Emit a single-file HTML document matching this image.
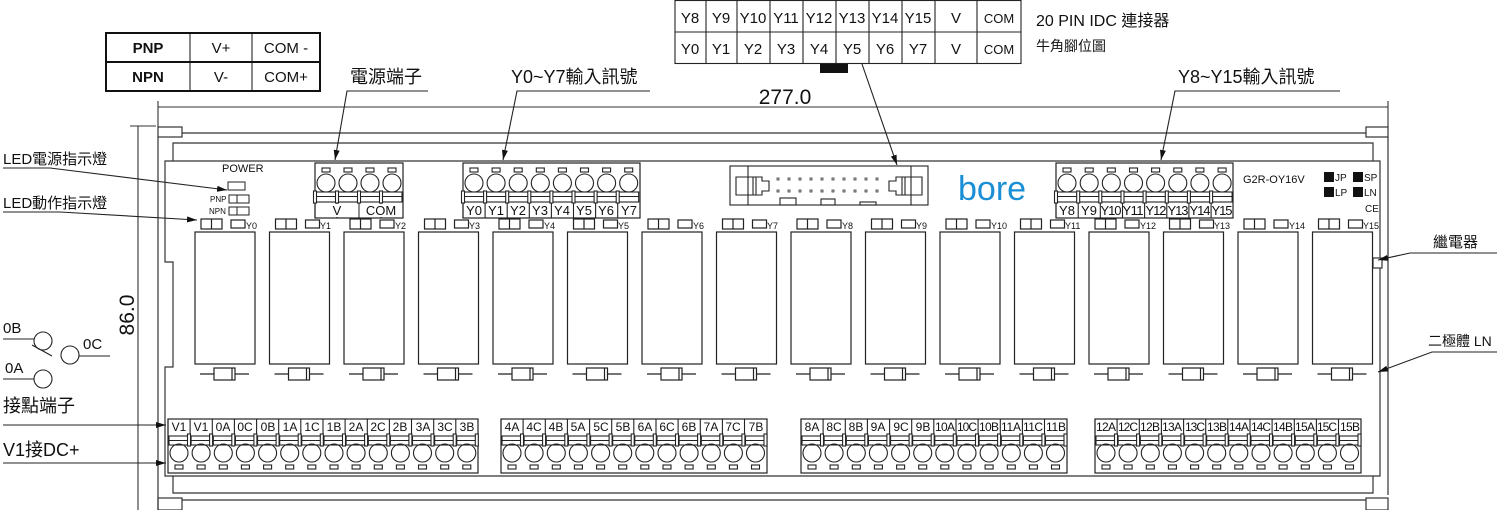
<!DOCTYPE html>
<html><head><meta charset="utf-8"><style>
html,body{margin:0;padding:0;background:#fff;}
svg{display:block;font-family:"Liberation Sans","Noto Sans CJK TC",sans-serif;}
</style></head><body>
<svg width="1500" height="510" viewBox="0 0 1500 510" xmlns="http://www.w3.org/2000/svg">
<defs>
<marker id="ar" viewBox="0 0 10 6" refX="10" refY="3" markerWidth="10" markerHeight="6" orient="auto" markerUnits="userSpaceOnUse"><path d="M0,0 L10,3 L0,6 z" fill="#111"/></marker>
<g id="relay" fill="none" stroke="#222" stroke-width="1.2">
<rect x="6" y="219" width="21" height="10"/><line x1="16.5" y1="219" x2="16.5" y2="229"/>
<rect x="36" y="220" width="14" height="8"/>
<rect x="0" y="232" width="60" height="132"/>
<line x1="5" y1="374" x2="54" y2="374"/>
<rect x="19" y="368" width="21" height="12" fill="#fff"/>
<line x1="37" y1="368" x2="37" y2="380"/>
</g>
<g id="bc" fill="none" stroke="#222" stroke-width="1.1">
<line x1="0" y1="0" x2="0" y2="15"/>
<rect x="1" y="17" width="20" height="9"/><line x1="1" y1="21.5" x2="21" y2="21.5"/>
<rect x="19.5" y="15" width="3" height="12" fill="#fff"/>
<circle cx="11" cy="34" r="9"/>
<rect x="7" y="46" width="8" height="4"/>
</g>
<g id="tc" fill="none" stroke="#222" stroke-width="1.1">
<rect x="7" y="5" width="8" height="4"/>
<circle cx="11" cy="20" r="9"/>
<rect x="1" y="29" width="20" height="10"/><line x1="1" y1="33.5" x2="21" y2="33.5"/>
<rect x="-1.5" y="28" width="3" height="12" fill="#fff"/>
<line x1="0" y1="40" x2="0" y2="55"/>
</g>
</defs>

<!-- PNP table -->
<g stroke="#111" stroke-width="2" fill="none">
<rect x="106" y="33" width="214" height="58"/>
<line x1="106" y1="62" x2="320" y2="62"/>
<line x1="190" y1="33" x2="190" y2="91" stroke-width="1"/>
<line x1="252" y1="33" x2="252" y2="91" stroke-width="1"/>
</g>
<g font-size="15" text-anchor="middle" fill="#111">
<text x="148" y="53" font-weight="bold">PNP</text><text x="221" y="53">V+</text><text x="286" y="53">COM -</text>
<text x="148" y="82" font-weight="bold">NPN</text><text x="221" y="82">V-</text><text x="286" y="82">COM+</text>
</g>

<!-- IDC table -->
<g stroke="#222" stroke-width="1.1" fill="none">
<rect x="675" y="0.5" width="346" height="63"/>
<line x1="675" y1="32" x2="1021" y2="32"/>
<line x1="706" y1="0" x2="706" y2="63"/><line x1="737" y1="0" x2="737" y2="63"/><line x1="770" y1="0" x2="770" y2="63"/><line x1="803" y1="0" x2="803" y2="63"/><line x1="836" y1="0" x2="836" y2="63"/><line x1="869" y1="0" x2="869" y2="63"/><line x1="902" y1="0" x2="902" y2="63"/><line x1="935" y1="0" x2="935" y2="63"/><line x1="977" y1="0" x2="977" y2="63"/>
</g>
<rect x="820" y="64" width="28" height="9" fill="#111"/>
<g font-size="15" text-anchor="middle" fill="#111">
<text x="690" y="23">Y8</text><text x="721" y="23">Y9</text><text x="753" y="23">Y10</text><text x="786" y="23">Y11</text><text x="819" y="23">Y12</text><text x="852" y="23">Y13</text><text x="885" y="23">Y14</text><text x="918" y="23">Y15</text><text x="956" y="23">V</text><text x="999" y="23" font-size="13">COM</text>
<text x="690" y="54">Y0</text><text x="721" y="54">Y1</text><text x="753" y="54">Y2</text><text x="786" y="54">Y3</text><text x="819" y="54">Y4</text><text x="852" y="54">Y5</text><text x="885" y="54">Y6</text><text x="918" y="54">Y7</text><text x="956" y="54">V</text><text x="999" y="54" font-size="13">COM</text>
</g>
<text x="1036" y="26" font-size="16" fill="#111">20 PIN IDC 連接器</text>
<text x="1036" y="51" font-size="14" fill="#111">牛角腳位圖</text>

<!-- dimensions -->
<g stroke="#333" stroke-width="1.1" fill="none">
<line x1="158" y1="107" x2="1388" y2="107"/>
<line x1="158" y1="101" x2="158" y2="127"/><line x1="1388" y1="101" x2="1388" y2="127"/>
<line x1="138" y1="126" x2="138" y2="510"/>
<line x1="130" y1="126" x2="156" y2="126"/>
</g>
<text x="785" y="104" font-size="21" text-anchor="middle" fill="#111">277.0</text>
<text transform="translate(134,315) rotate(-90)" font-size="21" text-anchor="middle" fill="#111">86.0</text>

<!-- rail and board -->
<g stroke="#333" stroke-width="1.2" fill="none">
<rect x="158" y="127" width="24" height="10"/>
<rect x="1366" y="127" width="22" height="10"/>
<line x1="182" y1="133" x2="1366" y2="133"/>
<line x1="158" y1="137" x2="158" y2="510"/>
<line x1="1388" y1="137" x2="1388" y2="495"/>
<path d="M173,161 L173,143 L1373,143 L1373,161"/>
<path d="M165,161 L1380,161 L1380,476 L165,476 L165,367 L173,367 L173,262 L165,262 Z"/>
<path d="M173,476 L173,493 L1373,493 L1373,476"/>
<rect x="158" y="498" width="24" height="12"/>
<line x1="182" y1="500" x2="1366" y2="500"/>
<rect x="1366" y="498" width="22" height="12"/>
<rect x="1373" y="258" width="9" height="10" fill="#fff"/>
</g>

<!-- power leds -->
<text x="222" y="172" font-size="11" fill="#111">POWER</text>
<g stroke="#222" fill="none">
<rect x="228" y="182" width="17" height="8"/>
<rect x="229" y="195" width="20" height="8"/><line x1="237" y1="195" x2="237" y2="203"/>
<rect x="229" y="207" width="20" height="8"/><line x1="237" y1="207" x2="237" y2="215"/>
</g>
<text x="210" y="202" font-size="8" fill="#111">PNP</text>
<text x="209" y="214" font-size="8" fill="#111">NPN</text>

<!-- top terminal blocks -->
<g stroke="#222" stroke-width="1.2" fill="none"><rect x="315" y="163" width="88" height="55"/><rect x="463" y="163" width="177" height="55"/><rect x="1056" y="163" width="177" height="55"/></g>
<use href="#tc" x="315" y="163"/><use href="#tc" x="337" y="163"/><use href="#tc" x="359" y="163"/><use href="#tc" x="381" y="163"/>
<rect x="316" y="204" width="86" height="13" fill="#fff"/><line x1="359" y1="203" x2="359" y2="218" stroke="#222"/>
<use href="#tc" x="463" y="163"/><use href="#tc" x="485.1" y="163"/><use href="#tc" x="507.2" y="163"/><use href="#tc" x="529.3" y="163"/><use href="#tc" x="551.4" y="163"/><use href="#tc" x="573.5" y="163"/><use href="#tc" x="595.6" y="163"/><use href="#tc" x="617.7" y="163"/>
<use href="#tc" x="1056" y="163"/><use href="#tc" x="1078.2" y="163"/><use href="#tc" x="1100.3" y="163"/><use href="#tc" x="1122.5" y="163"/><use href="#tc" x="1144.6" y="163"/><use href="#tc" x="1166.8" y="163"/><use href="#tc" x="1188.9" y="163"/><use href="#tc" x="1211.1" y="163"/>
<g font-size="13" text-anchor="middle" fill="#111">
<text x="337" y="215">V</text><text x="381" y="215">COM</text>
<text x="474" y="215">Y0</text><text x="496" y="215">Y1</text><text x="518" y="215">Y2</text><text x="540" y="215">Y3</text><text x="562" y="215">Y4</text><text x="584" y="215">Y5</text><text x="606" y="215">Y6</text><text x="629" y="215">Y7</text>
<text x="1067" y="215">Y8</text><text x="1089" y="215">Y9</text><text x="1111" y="215" textLength="21">Y10</text><text x="1133" y="215" textLength="21">Y11</text><text x="1156" y="215" textLength="21">Y12</text><text x="1178" y="215" textLength="21">Y13</text><text x="1200" y="215" textLength="21">Y14</text><text x="1222" y="215" textLength="21">Y15</text>
</g>

<!-- IDC connector -->
<g stroke="#222" stroke-width="1.1" fill="none">
<rect x="730" y="166" width="198" height="39"/>
<line x1="748" y1="166" x2="748" y2="205"/><line x1="911" y1="166" x2="911" y2="205"/>
<path d="M736,177 L762,177 L762,181 L769,181 L769,191 L762,191 L762,195 L736,195 Z"/>
<path d="M922,177 L896,177 L896,181 L889,181 L889,191 L896,191 L896,195 L922,195 Z"/>
<line x1="753" y1="177" x2="753" y2="195"/><line x1="756" y1="177" x2="756" y2="195"/>
<line x1="902" y1="177" x2="902" y2="195"/><line x1="905" y1="177" x2="905" y2="195"/>
<rect x="780" y="198" width="16" height="7"/><rect x="821" y="199" width="14" height="6"/><rect x="860" y="202" width="16" height="3"/>
</g>
<g fill="none" stroke="#333" stroke-width="0.8">
<rect x="777" y="178" width="2" height="2"/><rect x="788" y="178" width="2" height="2"/><rect x="799" y="178" width="2" height="2"/><rect x="810" y="178" width="2" height="2"/><rect x="821" y="178" width="2" height="2"/><rect x="832" y="178" width="2" height="2"/><rect x="843" y="178" width="2" height="2"/><rect x="854" y="178" width="2" height="2"/><rect x="865" y="178" width="2" height="2"/><rect x="876" y="178" width="2" height="2"/>
<rect x="777" y="190" width="2" height="2"/><rect x="788" y="190" width="2" height="2"/><rect x="799" y="190" width="2" height="2"/><rect x="810" y="190" width="2" height="2"/><rect x="821" y="190" width="2" height="2"/><rect x="832" y="190" width="2" height="2"/><rect x="843" y="190" width="2" height="2"/><rect x="854" y="190" width="2" height="2"/><rect x="865" y="190" width="2" height="2"/><rect x="876" y="190" width="2" height="2"/>
</g>
<text x="958" y="200" font-size="34" fill="#1a8fd6">bore</text>

<text x="1243" y="183" font-size="11" fill="#111">G2R-OY16V</text>
<rect x="1324" y="172" width="10" height="10" fill="#111"/><rect x="1353" y="172" width="10" height="10" fill="#111"/>
<rect x="1324" y="187" width="10" height="10" fill="#111"/><rect x="1353" y="187" width="10" height="10" fill="#111"/>
<g font-size="10" fill="#111"><text x="1335" y="181">JP</text><text x="1364" y="181">SP</text><text x="1335" y="196">LP</text><text x="1364" y="196">LN</text><text x="1365" y="212">CE</text></g>

<!-- relays -->
<use href="#relay" x="195"/><use href="#relay" x="269.5"/><use href="#relay" x="344"/><use href="#relay" x="418.5"/><use href="#relay" x="493"/><use href="#relay" x="567.5"/><use href="#relay" x="642"/><use href="#relay" x="716.5"/><use href="#relay" x="791"/><use href="#relay" x="865.5"/><use href="#relay" x="940"/><use href="#relay" x="1014.5"/><use href="#relay" x="1089"/><use href="#relay" x="1163.5"/><use href="#relay" x="1238"/><use href="#relay" x="1312.5"/>
<g font-size="9" fill="#111">
<text x="246" y="229">Y0</text><text x="320" y="229">Y1</text><text x="395" y="229">Y2</text><text x="469" y="229">Y3</text><text x="544" y="229">Y4</text><text x="618" y="229">Y5</text><text x="693" y="229">Y6</text><text x="767" y="229">Y7</text><text x="842" y="229">Y8</text><text x="916" y="229">Y9</text><text x="991" y="229">Y10</text><text x="1065" y="229">Y11</text><text x="1140" y="229">Y12</text><text x="1214" y="229">Y13</text><text x="1289" y="229">Y14</text><text x="1363" y="229">Y15</text>
</g>

<!-- bottom terminal blocks -->
<g stroke="#222" stroke-width="1.2" fill="none"><rect x="168" y="419" width="310" height="54"/><rect x="501" y="419" width="266" height="54"/><rect x="801" y="419" width="266" height="54"/><rect x="1095" y="419" width="266" height="54"/></g>
<use href="#bc" x="168" y="419"/><use href="#bc" x="190.1" y="419"/><use href="#bc" x="212.3" y="419"/><use href="#bc" x="234.4" y="419"/><use href="#bc" x="256.6" y="419"/><use href="#bc" x="278.7" y="419"/><use href="#bc" x="300.8" y="419"/><use href="#bc" x="323" y="419"/><use href="#bc" x="345.1" y="419"/><use href="#bc" x="367.3" y="419"/><use href="#bc" x="389.4" y="419"/><use href="#bc" x="411.5" y="419"/><use href="#bc" x="433.7" y="419"/><use href="#bc" x="455.8" y="419"/>
<use href="#bc" x="501" y="419"/><use href="#bc" x="523.1" y="419"/><use href="#bc" x="545.3" y="419"/><use href="#bc" x="567.4" y="419"/><use href="#bc" x="589.6" y="419"/><use href="#bc" x="611.7" y="419"/><use href="#bc" x="633.8" y="419"/><use href="#bc" x="656" y="419"/><use href="#bc" x="678.1" y="419"/><use href="#bc" x="700.3" y="419"/><use href="#bc" x="722.4" y="419"/><use href="#bc" x="744.5" y="419"/>
<use href="#bc" x="801" y="419"/><use href="#bc" x="823.1" y="419"/><use href="#bc" x="845.3" y="419"/><use href="#bc" x="867.4" y="419"/><use href="#bc" x="889.6" y="419"/><use href="#bc" x="911.7" y="419"/><use href="#bc" x="933.8" y="419"/><use href="#bc" x="956" y="419"/><use href="#bc" x="978.1" y="419"/><use href="#bc" x="1000.3" y="419"/><use href="#bc" x="1022.4" y="419"/><use href="#bc" x="1044.5" y="419"/>
<use href="#bc" x="1095" y="419"/><use href="#bc" x="1117.1" y="419"/><use href="#bc" x="1139.3" y="419"/><use href="#bc" x="1161.4" y="419"/><use href="#bc" x="1183.6" y="419"/><use href="#bc" x="1205.7" y="419"/><use href="#bc" x="1227.8" y="419"/><use href="#bc" x="1250" y="419"/><use href="#bc" x="1272.1" y="419"/><use href="#bc" x="1294.3" y="419"/><use href="#bc" x="1316.4" y="419"/><use href="#bc" x="1338.5" y="419"/>
<g font-size="12" text-anchor="middle" fill="#111">
<text x="179" y="431">V1</text><text x="201" y="431">V1</text><text x="223" y="431">0A</text><text x="245" y="431">0C</text><text x="268" y="431">0B</text><text x="290" y="431">1A</text><text x="312" y="431">1C</text><text x="334" y="431">1B</text><text x="356" y="431">2A</text><text x="378" y="431">2C</text><text x="400" y="431">2B</text><text x="423" y="431">3A</text><text x="445" y="431">3C</text><text x="467" y="431">3B</text>
<text x="512" y="431">4A</text><text x="534" y="431">4C</text><text x="556" y="431">4B</text><text x="578" y="431">5A</text><text x="601" y="431">5C</text><text x="623" y="431">5B</text><text x="645" y="431">6A</text><text x="667" y="431">6C</text><text x="689" y="431">6B</text><text x="711" y="431">7A</text><text x="733" y="431">7C</text><text x="756" y="431">7B</text>
<text x="812" y="431">8A</text><text x="834" y="431">8C</text><text x="856" y="431">8B</text><text x="878" y="431">9A</text><text x="901" y="431">9C</text><text x="923" y="431">9B</text><text x="945" y="431" textLength="20">10A</text><text x="967" y="431" textLength="20">10C</text><text x="989" y="431" textLength="20">10B</text><text x="1011" y="431" textLength="20">11A</text><text x="1033" y="431" textLength="20">11C</text><text x="1056" y="431" textLength="20">11B</text>
<text x="1106" y="431" textLength="20">12A</text><text x="1128" y="431" textLength="20">12C</text><text x="1150" y="431" textLength="20">12B</text><text x="1172" y="431" textLength="20">13A</text><text x="1195" y="431" textLength="20">13C</text><text x="1217" y="431" textLength="20">13B</text><text x="1239" y="431" textLength="20">14A</text><text x="1261" y="431" textLength="20">14C</text><text x="1283" y="431" textLength="20">14B</text><text x="1305" y="431" textLength="20">15A</text><text x="1327" y="431" textLength="20">15C</text><text x="1350" y="431" textLength="20">15B</text>
</g>

<!-- leaders -->
<g stroke="#222" stroke-width="1.1" fill="none">
<polyline points="428,91 347,91 335,160" marker-end="url(#ar)"/>
<polyline points="650,91 517,91 503,160" marker-end="url(#ar)"/>
<polyline points="1340,91 1175,91 1161,160" marker-end="url(#ar)"/>
<line x1="862" y1="64" x2="897" y2="165" marker-end="url(#ar)"/>
<polyline points="3,168 50,168 227,190" marker-end="url(#ar)"/>
<polyline points="3,212 60,212 197,220" marker-end="url(#ar)"/>
<polyline points="1497,253 1410,253 1378,260" marker-end="url(#ar)"/>
<polyline points="1497,352 1432,352 1378,372" marker-end="url(#ar)"/>
<line x1="3" y1="425" x2="166" y2="425" marker-end="url(#ar)"/>
<line x1="3" y1="463" x2="166" y2="463" marker-end="url(#ar)"/>
<line x1="3" y1="339" x2="34" y2="339"/>
<circle cx="43" cy="341" r="9"/>
<line x1="32" y1="345" x2="52" y2="356"/>
<circle cx="70" cy="355" r="9"/>
<line x1="79" y1="356" x2="110" y2="356"/>
<line x1="3" y1="379" x2="34" y2="379"/>
<circle cx="43" cy="379" r="9"/>
</g>
<g fill="#111">
<text x="350" y="83" font-size="18">電源端子</text>
<text x="511" y="83" font-size="18">Y0~Y7輸入訊號</text>
<text x="1178" y="83" font-size="18">Y8~Y15輸入訊號</text>
<text x="3" y="164" font-size="15">LED電源指示燈</text>
<text x="3" y="208" font-size="15">LED動作指示燈</text>
<text x="1433" y="247" font-size="15">繼電器</text>
<text x="1428" y="346" font-size="14">二極體 LN</text>
<text x="3" y="333" font-size="15">0B</text>
<text x="83" y="349" font-size="15">0C</text>
<text x="5" y="373" font-size="15">0A</text>
<text x="3" y="412" font-size="18">接點端子</text>
<text x="3" y="456" font-size="18">V1接DC+</text>
</g>
</svg>
</body></html>
